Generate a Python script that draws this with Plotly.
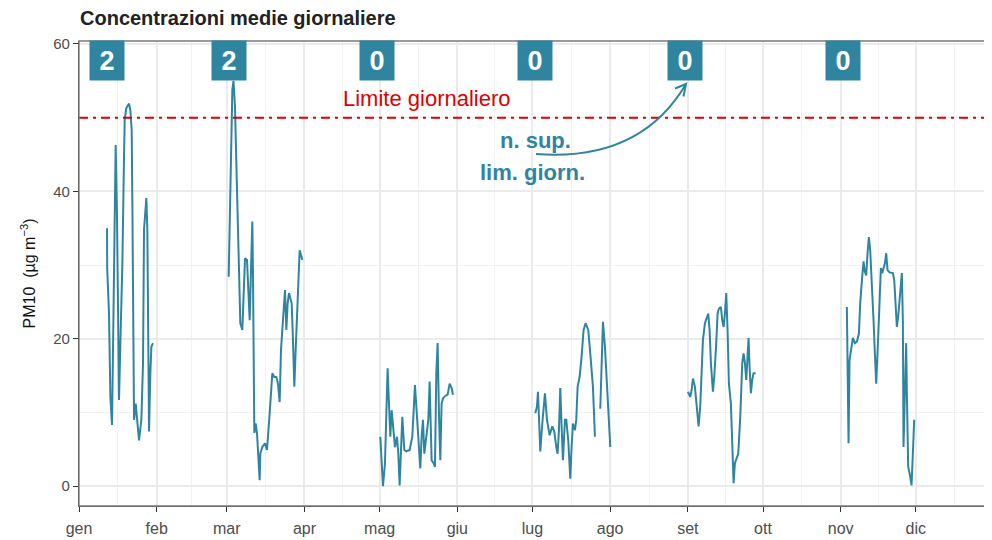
import pandas as pd
import plotly.graph_objects as go

# ---------------- data ----------------
YEAR_START = "2021-01-01"
YEAR_END = "2021-12-31"

# days since 1 January and daily-mean PM10 (µg/m3), one pair of lists per campaign
jan_days = [11.19, 11.25, 11.98, 12.25, 12.52, 13.18, 13.58, 14.25, 14.64, 15.18, 15.97, 16.51, 17.31,
            17.97, 18.24, 18.90, 19.96, 20.50, 21.03, 21.30, 21.83, 21.96, 22.63, 23.16, 23.95, 24.89,
            25.55, 25.95, 26.88, 27.28, 27.55, 27.95, 28.48, 28.88, 29.54]
jan_vals = [35.0, 29.6, 23.4, 18.5, 12.1, 8.3, 19.4, 35.7, 46.3, 36.6, 11.7, 19.4, 30.2,
            44.7, 49.7, 51.3, 51.9, 51.0, 48.3, 38.4, 21.2, 9.0, 11.2, 9.0, 6.2, 9.0,
            16.7, 34.8, 39.1, 34.8, 23.4, 7.4, 15.3, 18.9, 19.4]

mar_days = [59.74, 60.14, 60.40, 60.80, 61.20, 61.65, 62.26, 62.80, 63.33, 63.86, 64.39, 65.19, 65.72,
            66.26, 67.05, 67.58, 68.12, 68.65, 69.18, 69.45, 69.71, 69.98, 70.51, 71.04, 71.57, 72.11,
            72.37, 73.17, 74.23, 75.03, 76.10, 77.16, 77.96, 78.76, 79.42, 80.09, 80.62, 81.42, 82.22,
            82.75, 83.28, 83.81, 84.88, 85.41, 85.94, 86.48, 87.01, 87.54, 88.07, 88.60, 89.14]
mar_vals = [28.4, 34.8, 40.2, 49.2, 53.8, 55.0, 51.5, 43.8, 35.7, 26.6, 22.1, 21.2, 27.5,
            30.9, 30.7, 27.5, 22.5, 29.3, 35.9, 28.4, 21.2, 7.2, 8.5, 7.2, 4.0, 0.8,
            4.4, 5.3, 5.8, 4.9, 9.9, 15.3, 14.8, 14.8, 13.9, 11.4, 18.5, 23.4, 26.6,
            21.2, 24.8, 26.2, 24.8, 19.8, 13.5, 18.5, 22.1, 27.5, 32.0, 31.1, 30.7]

may_days = [120.26, 121.32, 122.12, 122.65, 123.18, 123.72, 124.25, 124.78, 125.31, 126.11, 126.91,
            127.44, 127.97, 128.50, 129.04, 129.84, 130.64, 131.97, 133.03, 134.09, 134.89, 136.22,
            136.75, 137.29, 137.82, 138.62, 139.42, 139.95, 140.74, 141.54, 142.07, 142.61, 143.14,
            143.67, 144.20, 144.73, 145.27, 146.07, 147.13, 147.93, 148.73, 149.26]
may_vals = [6.7, 0.0, 3.1, 10.3, 16.0, 11.2, 6.7, 10.3, 8.1, 5.3, 6.7,
            4.4, 0.1, 6.2, 9.4, 4.9, 4.7, 4.9, 6.7, 13.7, 9.0, 2.4,
            6.7, 9.0, 4.4, 7.2, 9.0, 14.2, 3.5, 3.1, 2.6, 15.3, 19.4,
            9.9, 3.5, 11.2, 11.9, 12.2, 12.4, 13.9, 13.3, 12.4]

jul_days = [182.11, 182.78, 183.18, 183.58, 184.11, 184.91, 185.97, 186.77, 187.84, 188.90, 189.70,
            190.49, 191.02, 191.56, 192.09, 192.62, 193.15, 193.95, 194.49, 195.28, 196.08, 196.61,
            197.14, 197.94, 198.47, 199.01, 199.80, 200.60, 201.40, 202.20, 203.26, 204.06, 205.12,
            205.92, None, 208.06, 208.59, 209.12, 209.92, 210.45, 211.25, 212.05]
jul_vals = [9.9, 10.8, 12.8, 9.0, 4.7, 8.5, 12.6, 9.0, 6.9, 8.1, 7.4,
            5.3, 4.4, 7.6, 13.3, 8.1, 3.5, 9.0, 9.0, 6.2, 1.0, 5.3,
            8.5, 7.6, 9.0, 13.5, 14.8, 17.6, 21.2, 22.1, 21.2, 18.0, 13.5,
            6.7, None, 10.5, 18.0, 22.3, 18.9, 15.8, 10.8, 5.3]

sep_days = [243.03, 243.96, 244.49, 245.02, 245.82, 246.62, 247.29, 247.95, 248.48, 249.02, 249.82,
            250.61, 251.15, 251.68, 252.21, 253.01, 253.54, 254.34, 254.87, 255.40, 256.20, 256.74,
            257.27, 257.80, 258.33, 258.86, 259.39, 260.19, 260.72, 261.26, 261.79, 263.12, 263.92,
            264.72, 265.25, 265.78, 266.31, 266.84, 267.24, 267.64, 268.17, 268.70, 269.23, 270.03]
sep_vals = [12.8, 12.1, 13.0, 14.6, 13.5, 10.8, 8.1, 10.8, 14.8, 19.8, 22.1,
            23.0, 23.4, 21.2, 16.7, 12.8, 14.8, 19.4, 23.4, 24.1, 24.3, 22.5,
            21.6, 23.4, 26.2, 21.2, 13.9, 11.2, 6.7, 0.4, 3.1, 4.4, 9.4,
            16.7, 18.0, 16.7, 14.4, 17.1, 20.1, 16.2, 12.6, 14.4, 15.3, 15.3]

nov_days = [306.47, 306.74, 307.14, 307.54, 308.34, 308.87, 309.67, 310.47, 311.27, 311.80, 312.59,
            313.13, 313.66, 314.19, 314.72, 315.26, 315.79, 316.32, 317.12, 317.65, 318.19, 318.98,
            319.51, 320.05, 320.58, 321.11, 321.64, 322.17, 322.70, 323.50, 324.83, 325.37, 325.90,
            326.43, 326.96, 327.49, 328.03, 328.42, 328.82, 329.09, 329.62, 330.15, 330.42, 330.95,
            331.75, 332.28, 332.81, 333.35]
nov_vals = [24.3, 17.1, 5.8, 17.1, 18.9, 20.1, 19.4, 19.6, 20.7, 24.8, 28.4,
            30.5, 29.1, 28.6, 31.6, 33.8, 32.0, 28.9, 22.5, 18.0, 13.9, 20.3,
            26.2, 29.6, 28.9, 29.6, 30.2, 31.6, 29.3, 29.0, 28.9, 28.0, 24.3,
            21.6, 23.0, 25.3, 27.1, 28.9, 22.5, 5.3, 12.6, 19.4, 12.6, 2.6,
            1.3, 0.1, 4.4, 9.0]

label_dates = ["2021-01-12", "2021-03-02", "2021-04-30", "2021-07-02", "2021-08-31", "2021-11-02"]
label_counts = [2, 2, 0, 0, 0, 0]
label_level = 57.8

month_starts = ["2021-01-01", "2021-02-01", "2021-03-01", "2021-04-01", "2021-05-01", "2021-06-01",
                "2021-07-01", "2021-08-01", "2021-09-01", "2021-10-01", "2021-11-01", "2021-12-01"]
month_labels = ["gen", "feb", "mar", "apr", "mag", "giu", "lug", "ago", "set", "ott", "nov", "dic"]
y_ticks = [0, 20, 40, 60]
y_minor = [10, 30, 50]
limit_value = 50

# ---------------- styles ----------------
TEAL = "#2F85A0"
RED = "#DD0000"
FONT = "Liberation Sans, Arial, sans-serif"

base = pd.Timestamp(YEAR_START)
xs, ys = [], []
segments = [(jan_days, jan_vals), (mar_days, mar_vals), (may_days, may_vals),
            (jul_days, jul_vals), (sep_days, sep_vals), (nov_days, nov_vals)]
for d_list, v_list in segments:
    for d, v in zip(d_list, v_list):
        if d is None:
            xs.append(None)
            ys.append(None)
        else:
            xs.append(base + pd.to_timedelta(d, unit="D"))
            ys.append(v)
    xs.append(None)
    ys.append(None)

ms = pd.to_datetime(month_starts)
ms_next = list(ms[1:]) + [pd.Timestamp("2022-01-01")]
mid_months = [a + (b - a) / 2 for a, b in zip(ms, ms_next)]

fig = go.Figure()
fig.add_trace(go.Scatter(x=xs, y=ys, mode="lines", line=dict(color=TEAL, width=2),
                         connectgaps=False, showlegend=False, hoverinfo="skip"))

# the page body has an 8px margin: size the figure so it fills the 992x540 window
OFF = 8
FIG_W, FIG_H = 992 - OFF, 540 - OFF
# plot area in window pixels
L, R, T, B = 79, 991, 41, 506
W, H = R - L, B - T
px = lambda p: (p - L) / W
py = lambda p: (B - p) / H

shapes = [
    dict(type="line", xref="paper", x0=0, x1=1, yref="y", y0=limit_value, y1=limit_value,
         line=dict(color=RED, width=2, dash="9px,5px,3px,5px")),
    dict(type="rect", xref="paper", yref="paper", x0=0, x1=1, y0=0, y1=1,
         line=dict(color="#7a7a7a", width=1.3), layer="above"),
    # curved arrow
    dict(type="path", xref="paper", yref="paper",
         path=f"M {px(536)},{py(154)} Q {px(640)},{py(162)} {px(686)},{py(84)}",
         line=dict(color=TEAL, width=2)),
    dict(type="path", xref="paper", yref="paper",
         path=f"M {px(675)},{py(88.5)} L {px(686)},{py(84)} L {px(683.5)},{py(96.5)}",
         line=dict(color=TEAL, width=2)),
]

annotations = []
for d, c in zip(label_dates, label_counts):
    annotations.append(dict(x=d, y=label_level, xref="x", yref="y", text=str(c), showarrow=False,
                            bgcolor=TEAL, width=34, height=39, borderpad=0, valign="middle",
                            font=dict(family=FONT, size=27, color="white", weight="bold")))
annotations += [
    dict(x="2021-05-20", y=52.6, xref="x", yref="y", text="Limite giornaliero", showarrow=False,
         font=dict(family=FONT, size=22, color=RED)),
    dict(x="2021-07-02", y=46.9, xref="x", yref="y", text="n. sup.", showarrow=False,
         font=dict(family=FONT, size=22, color=TEAL, weight="bold")),
    dict(x="2021-07-01", y=42.6, xref="x", yref="y", text="lim. giorn.", showarrow=False,
         font=dict(family=FONT, size=22, color=TEAL, weight="bold")),
]

fig.update_layout(
    width=FIG_W, height=FIG_H,
    margin=dict(l=L - OFF, r=FIG_W - (R - OFF), t=T - OFF, b=FIG_H - (B - OFF), autoexpand=False),
    paper_bgcolor="white", plot_bgcolor="white",
    font=dict(family=FONT),
    title=dict(text="Concentrazioni medie giornaliere", x=(80 - OFF) / FIG_W, xref="container",
               xanchor="left", y=1 - 3 / FIG_H, yref="container", yanchor="top", pad=dict(t=0, b=0),
               font=dict(family=FONT, size=20, color="#222222", weight="bold")),
    shapes=shapes, annotations=annotations,
    xaxis=dict(type="date", range=[YEAR_START, YEAR_END],
               tickmode="array", tickvals=month_starts, ticktext=month_labels,
               ticks="outside", ticklen=5, tickwidth=1.3, tickcolor="#333333",
               showline=True, linecolor="#444444", linewidth=1.3,
               showgrid=True, gridcolor="#ebebeb", gridwidth=1.9, zeroline=False,
               ticklabelstandoff=3,
               tickfont=dict(family=FONT, size=16, color="#4d4d4d"),
               minor=dict(tickmode="array", tickvals=mid_months, showgrid=True,
                          gridcolor="#f2f2f2", gridwidth=1.1, ticks="")),
    yaxis=dict(range=[-2.7, 60.4], tickmode="array", tickvals=y_ticks,
               ticks="outside", ticklen=5, tickwidth=1.3, tickcolor="#333333",
               showline=True, linecolor="#444444", linewidth=1.3,
               showgrid=True, gridcolor="#ebebeb", gridwidth=1.9, zeroline=False,
               tickfont=dict(family=FONT, size=15, color="#4d4d4d"),
               title=dict(text="PM10  (µg m<sup>−3</sup>)", standoff=13,
                          font=dict(family=FONT, size=16, color="#111111")),
               minor=dict(tickmode="array", tickvals=y_minor, showgrid=True,
                          gridcolor="#f2f2f2", gridwidth=1.1, ticks="")),
)

fig.write_html("out.html")
